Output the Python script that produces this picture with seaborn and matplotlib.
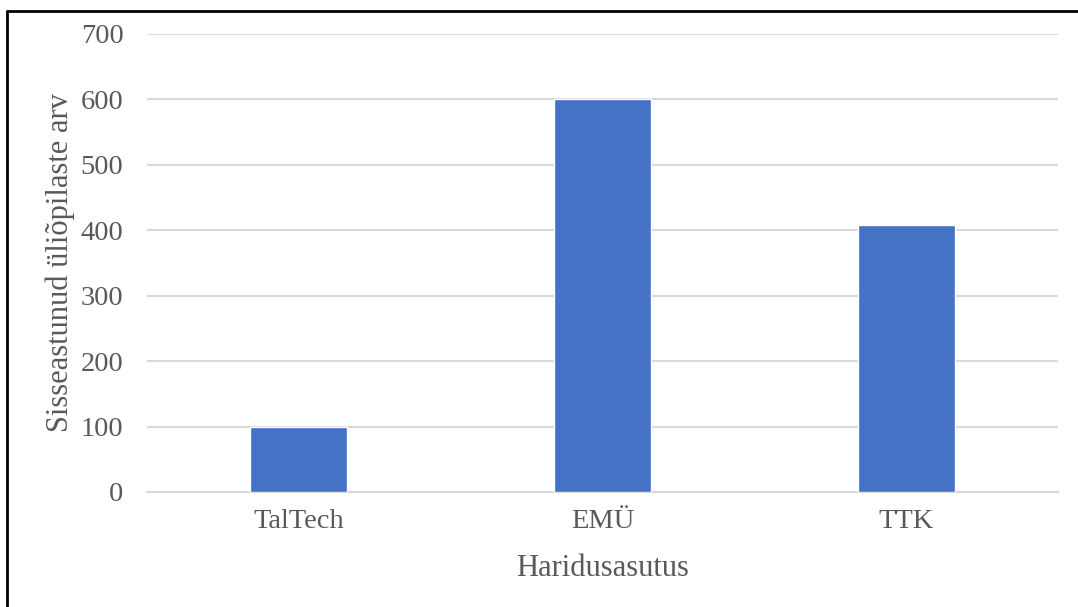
import pandas as pd
import matplotlib.pyplot as plt
import seaborn as sns
from matplotlib.lines import Line2D

# Data
institutions = ['TalTech', 'EMÜ', 'TTK']
students = [99, 600, 408]
y_ticks = [0, 100, 200, 300, 400, 500, 600, 700]

df = pd.DataFrame({'Haridusasutus': institutions, 'Sisseastunud': students})

sns.set_style('white')
plt.rcParams['font.family'] = ['Liberation Serif', 'DejaVu Serif']
text_color = '#595959'

fig = plt.figure(figsize=(10.78, 6.07), dpi=100)
ax = fig.add_axes([0.1364, 0.1895, 0.845, 0.7545])

sns.barplot(data=df, x='Haridusasutus', y='Sisseastunud', color='#4472C4',
            saturation=1, width=0.32, ax=ax, zorder=3)

ax.set_ylim(0, 700)
ax.set_yticks(y_ticks)
ax.set_xlim(-0.5, 2.5)
ax.yaxis.grid(True, color='#d9d9d9', linewidth=1.5, zorder=0)
ax.set_axisbelow(True)
for side in ['left', 'right', 'top']:
    ax.spines[side].set_visible(False)
ax.spines['bottom'].set_color('#d9d9d9')
ax.spines['bottom'].set_linewidth(1.5)
ax.tick_params(axis='both', length=0, labelsize=20.5, labelcolor=text_color)
ax.tick_params(axis='y', pad=17)
ax.tick_params(axis='x', pad=12)

ax.set_xlabel('Haridusasutus', fontsize=22, color=text_color, labelpad=15)
ax.set_ylabel('Sisseastunud üliõpilaste arv', fontsize=22, color=text_color, labelpad=4)

# frame lines at top and left of the picture
fig.add_artist(Line2D([0.0065, 0.0065], [0, 0.982], color='black', linewidth=2,
                      transform=fig.transFigure))
fig.add_artist(Line2D([0.0065, 1], [0.982, 0.982], color='black', linewidth=2,
                      transform=fig.transFigure))

fig.savefig('out.png', dpi=100)
